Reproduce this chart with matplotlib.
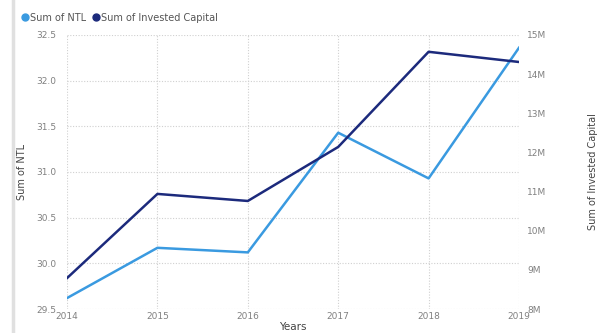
import matplotlib.pyplot as plt
from matplotlib.ticker import FuncFormatter
from matplotlib.lines import Line2D

years = [2014, 2015, 2016, 2017, 2018, 2019]
ntl = [29.62, 30.17, 30.12, 31.43, 30.93, 32.36]
invested = [8.79, 10.94, 10.76, 12.14, 14.57, 14.31]  # millions

ntl_color = '#3a9ae0'
cap_color = '#1c2a7c'
tick_color = '#808080'

fig = plt.figure(figsize=(6.11, 3.33), dpi=100)
ax = fig.add_axes([0.1097, 0.072, 0.7397, 0.823])
ax2 = ax.twinx()

ax.plot(years, ntl, color=ntl_color, lw=1.8)
ax2.plot(years, invested, color=cap_color, lw=1.8)

ax.set_xlim(2014, 2019)
ax.set_ylim(29.5, 32.5)
ax2.set_ylim(8, 15)
ax.set_xticks(years)
ax.set_yticks([29.5, 30.0, 30.5, 31.0, 31.5, 32.0, 32.5])
ax.yaxis.set_major_formatter(FuncFormatter(lambda v, p: f'{v:.1f}'))
ax2.set_yticks(range(8, 16))
ax2.yaxis.set_major_formatter(FuncFormatter(lambda v, p: f'{int(v)}M'))

ax.grid(True, color='#d0d0d0', ls=(0, (1, 1.5)), lw=0.8)
ax.set_axisbelow(True)
for a in (ax, ax2):
    for s in a.spines.values():
        s.set_visible(False)
    a.tick_params(length=0, labelsize=6.5, colors=tick_color)
ax.tick_params(axis='y', pad=8)
ax.tick_params(axis='x', pad=2)
ax2.tick_params(axis='y', pad=6)

ax.set_xlabel('Years', fontsize=7.5, color='#444444', labelpad=1)
ax.set_ylabel('Sum of NTL', fontsize=7, color='#444444', labelpad=6)
ax2.set_ylabel('Sum of Invested Capital', fontsize=7, color='#444444', labelpad=30)

# left gray bar
fig.add_artist(Line2D([0.021, 0.021], [0.0, 1.0], color='#e0e0e0', lw=2.5))

handles = [
    Line2D([], [], marker='o', ls='', color=ntl_color, markersize=5),
    Line2D([], [], marker='o', ls='', color=cap_color, markersize=5),
]
fig.legend(handles, ['Sum of NTL', 'Sum of Invested Capital'], loc='upper left',
           bbox_to_anchor=(0.022, 0.982), ncol=2, frameon=False, fontsize=7,
           handletextpad=0.0, columnspacing=0.5, labelcolor='#555555',
           handlelength=1.0, borderaxespad=0.3)

fig.savefig('out.png', dpi=100)
